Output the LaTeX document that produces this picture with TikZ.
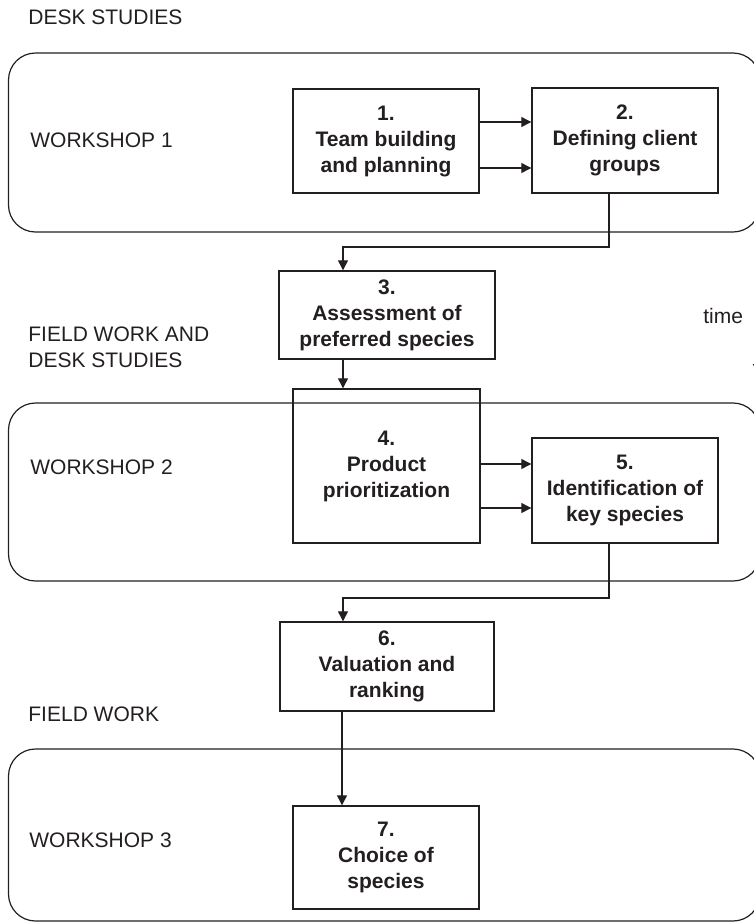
\documentclass[tikz,border=0pt]{standalone}
\usepackage{fontspec}
\setmainfont{Liberation Sans}
\usepackage{tikz}
\usetikzlibrary{arrows.meta}
\definecolor{ink}{RGB}{35,31,32}
\tikzset{
    every node/.style={text=ink, inner sep=0pt,
    	font=\fontsize{10.5}{12.75}\selectfont}
}
\tikzset{
    box/.style={draw=ink, line width=0.7pt, align=center,
    	font=\fontsize{10.5}{13}\selectfont\bfseries}
}
\tikzset{
    phase/.style={draw=ink, line width=0.6pt, rounded corners=13.5pt},
    lbl/.style={anchor=base west, align=left},
    arr/.style={draw=ink, line width=0.6pt, -{Triangle[length=5pt,width=5pt]}}
}

\begin{document}
\begin{tikzpicture}[x=0.5pt, y=-0.5pt]
	\useasboundingbox (0,0) rectangle (754,923);
	\clip (0,0) rectangle (754,923);

	% phases
	\draw[phase] (8.5,53) rectangle (760,232);
	\draw[phase] (8.5,403) rectangle (760,581);
	\draw[phase] (8.5,749) rectangle (760,921);

	\node (d1) [lbl] at (28,24) {DESK STUDIES};
	\node (w1) [lbl] at (30,147) {WORKSHOP 1};
	\node (d2) [lbl] at (28,367) {FIELD WORK AND\\DESK STUDIES};
	\node (w2) [lbl] at (30,474) {WORKSHOP 2};
	\node (d3) [lbl] at (28,721) {FIELD WORK};
	\node (w3) [lbl] at (29,847) {WORKSHOP 3};
	\node (t) [lbl] at (703,323) {time};

	% steps
	\node (1) [box, minimum width=93pt, minimum height=52pt] at (386,141)
		{1.\\Team building\\and planning};
	\node (2) [box, minimum width=93pt, minimum height=52.5pt] at (625,140.5)
		{2.\\Defining client\\groups};
	\node (3) [box, minimum width=108pt, minimum height=44pt] at (387,315)
		{3.\\Assessment of\\preferred species};
	\node (4) [box, minimum width=93.5pt, minimum height=77pt] at (386.5,466)
		{4.\\Product\\prioritization};
	\node (5) [box, minimum width=93pt, minimum height=52.5pt] at (625,490.5)
		{5.\\Identification of\\key species};
	\node (6) [box, minimum width=107pt, minimum height=44.5pt] at (387,666.5)
		{6.\\Valuation and\\ranking};
	\node (7) [box, minimum width=93pt, minimum height=51.5pt] at (386,857.5)
		{7.\\Choice of\\species};

	\draw[arr] (1.east |- 0,122) -- (2.west |- 0,122);
	\draw[arr] (1.east |- 0,168) -- (2.west |- 0,168);
	\draw[arr] (2.south -| 609,0) -- (609,247) -| (3.north -| 343,0);
	\draw[arr] (3.south -| 343,0) -- (4.north -| 343,0);
	\draw[arr] (4.east |- 0,464) -- (5.west |- 0,464);
	\draw[arr] (4.east |- 0,508) -- (5.west |- 0,508);
	\draw[arr] (5.south -| 609,0) -- (609,598) -| (6.north -| 343,0);
	\draw[arr] (6.south -| 342,0) -- (7.north -| 342,0);

	\coordinate (t0) at (758,335);
	\coordinate (t1) at (758,374);
	\draw[arr] (t0) -- (t1);
\end{tikzpicture}
\end{document}
